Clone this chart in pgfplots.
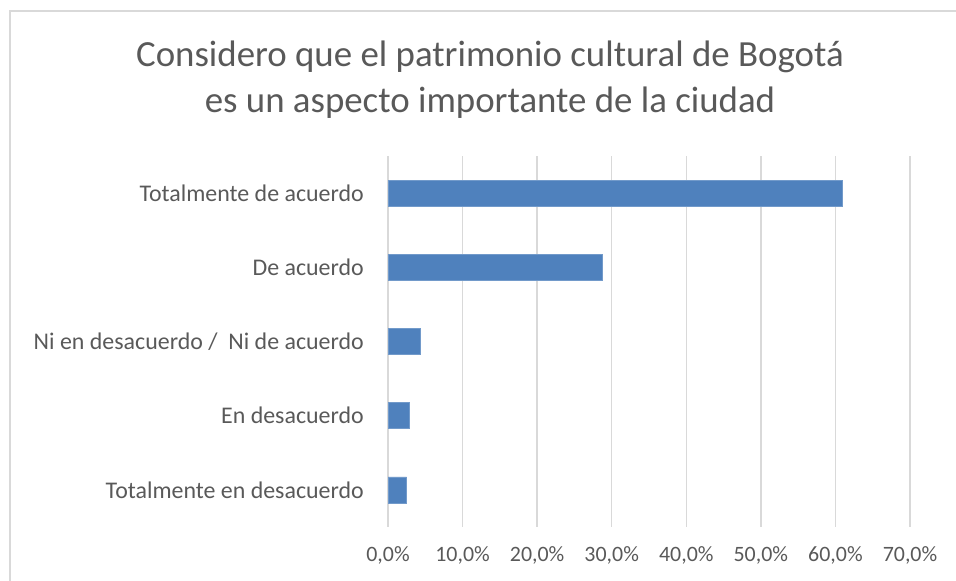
\documentclass[border=0pt]{standalone}
\usepackage{pgfplots}
\pgfplotsset{compat=1.18}
\usepackage{fontspec}
\setmainfont{Carlito}
\definecolor{txt}{RGB}{89,89,89}
\definecolor{gridc}{RGB}{217,217,217}
\definecolor{barc}{RGB}{79,129,189}
\begin{document}
\begin{tikzpicture}[x=1bp,y=1bp]
\begin{axis}[
  at={(388bp,54bp)}, anchor=south west,
  scale only axis, width=522bp, height=371bp,
  xbar, bar width=26bp,
  xmin=0, xmax=70, ymin=-0.5, ymax=4.5,
  xtick={0,10,...,70},
  xticklabels={{0,0\%},{10,0\%},{20,0\%},{30,0\%},{40,0\%},{50,0\%},{60,0\%},{70,0\%}},
  ytick={0,1,2,3,4},
  yticklabels={Totalmente en desacuerdo, En desacuerdo, {Ni en desacuerdo /\ \ Ni de acuerdo\ }, De acuerdo, Totalmente de acuerdo},
  major tick length=0pt,
  axis line style={draw=none},
  xmajorgrids, major grid style={draw=gridc, line width=1.5bp},
  ymajorgrids=false,
  xticklabel style={font=\fontsize{22}{22}\selectfont, text=txt, inner sep=0pt, yshift=-19bp},
  yticklabel style={font=\fontsize{24}{24}\selectfont, text=txt, inner sep=0pt, xshift=-24bp},
  clip=false,
]
\addplot[fill=barc, draw=barc!80!white, line width=0.5bp] coordinates {
  (2.5,0) (2.8,1) (4.3,2) (28.7,3) (60.9,4)
};
\end{axis}
\node[anchor=base, font=\fontsize{37}{37}\selectfont, text=txt] at (490,514) {Considero que el patrimonio cultural de Bogotá};
\node[anchor=base, font=\fontsize{37}{37}\selectfont, text=txt] at (490,468.5) {es un aspecto importante de la ciudad};
\draw[gridc, line width=1.5bp] (10,0) -- (10,570) -- (960,570);
\pgfresetboundingbox
\path[use as bounding box] (0,0) rectangle (956,581);
\end{tikzpicture}
\end{document}
